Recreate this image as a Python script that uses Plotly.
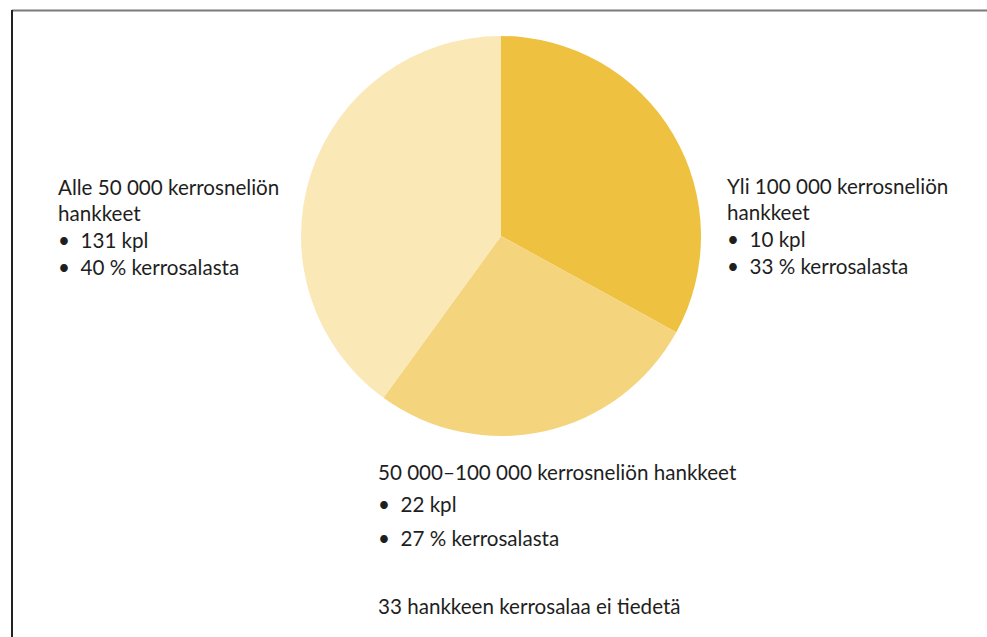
import plotly.graph_objects as go

W, H = 987, 637

# Hankkeet kokoluokittain: kappalemäärä ja osuus kerrosalasta (%)
categories = [
    "Yli 100 000 kerrosneliön hankkeet",
    "50 000–100 000 kerrosneliön hankkeet",
    "Alle 50 000 kerrosneliön hankkeet",
]
counts = [10, 22, 131]
shares = [33, 27, 40]
unknown_count = 33

colors = ["#EEC140", "#F4D57D", "#FBE8B7"]
text_color = "#1e1e1e"
font_family = "Lato, 'Open Sans', sans-serif"


def px_x(x):
    return x / W


def px_y(y):
    return 1 - y / H


# Pie centre and radius in pixels
cx, cy, r = 501, 236, 200

fig = go.Figure(
    go.Pie(
        labels=categories,
        values=shares,
        sort=False,
        direction="clockwise",
        rotation=0,
        marker=dict(colors=colors, line=dict(width=0)),
        textinfo="none",
        hoverinfo="label+percent",
        showlegend=False,
        domain=dict(x=[px_x(cx - r), px_x(cx + r)], y=[px_y(cy + r), px_y(cy - r)]),
    )
)


def label_lines(title_lines, count, share):
    return title_lines + [f"•  {count} kpl", f"•  {share} % kerrosalasta"]


annotations = []


def add_block(lines, x, ys):
    for line, y in zip(lines, ys):
        annotations.append(
            dict(
                text=line,
                x=px_x(x),
                y=px_y(y),
                xref="paper",
                yref="paper",
                xanchor="left",
                yanchor="middle",
                showarrow=False,
                font=dict(family=font_family, size=20.6, color=text_color),
            )
        )


# Left block: smallest projects
add_block(
    label_lines(["Alle 50 000 kerrosneliön", "hankkeet"], counts[2], shares[2]),
    56, [187, 213, 240, 267],
)
# Right block: largest projects
add_block(
    label_lines(["Yli 100 000 kerrosneliön", "hankkeet"], counts[0], shares[0]),
    725, [186, 212, 239, 266],
)
# Bottom block: middle size class and unknown floor area
add_block(
    label_lines([categories[1]], counts[1], shares[1]),
    376, [472, 504, 538],
)
add_block([f"{unknown_count} hankkeen kerrosalaa ei tiedetä"], 376, [606])

shapes = [
    dict(type="line", xref="paper", yref="paper",
         x0=px_x(12), x1=1, y0=px_y(10.5), y1=px_y(10.5),
         line=dict(color="#7a7a7a", width=2)),
    dict(type="line", xref="paper", yref="paper",
         x0=px_x(12), x1=px_x(12), y0=px_y(10), y1=0,
         line=dict(color="#222222", width=2)),
]

fig.update_layout(
    width=W,
    height=H,
    margin=dict(l=0, r=0, t=0, b=0),
    paper_bgcolor="white",
    plot_bgcolor="white",
    annotations=annotations,
    shapes=shapes,
)

fig.write_html("out.html")
